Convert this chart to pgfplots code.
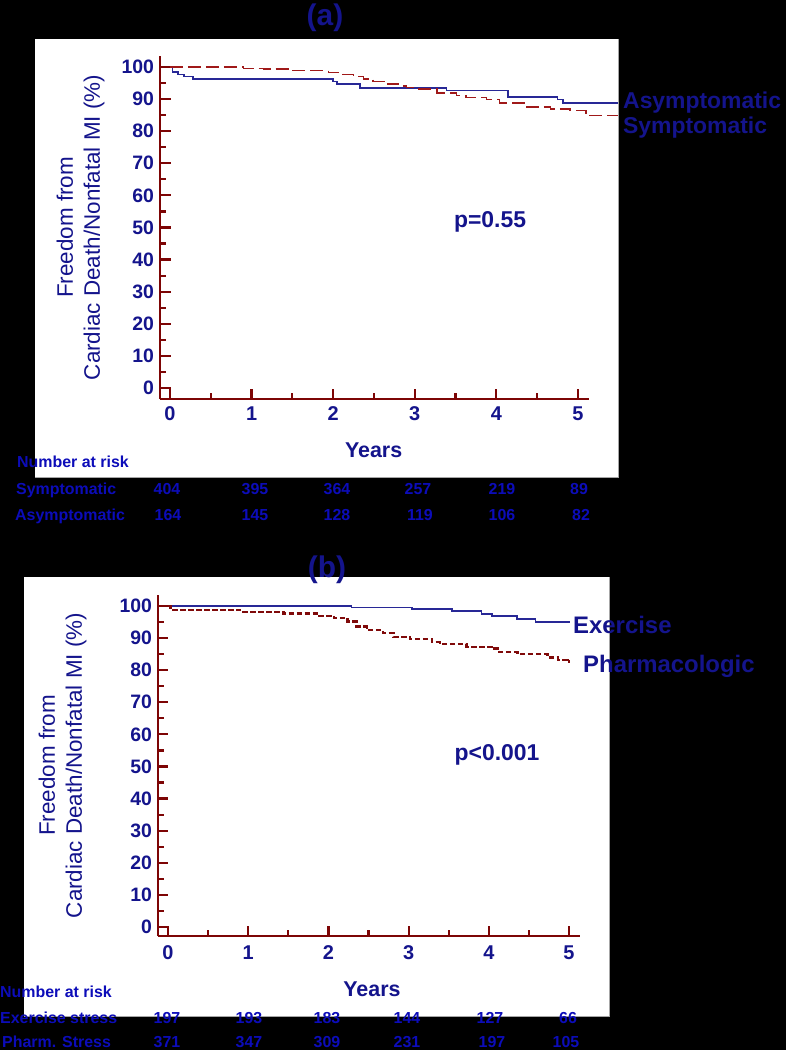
\documentclass[border=0pt]{standalone}
\usepackage{pgfplots}
\pgfplotsset{compat=1.18}
\usepackage{fontspec}
\setmainfont{Liberation Sans}
\definecolor{txtblue}{RGB}{20,20,140}
\definecolor{riskblue}{RGB}{12,12,185}
\definecolor{axred}{RGB}{125,5,5}
\definecolor{curveblue}{RGB}{40,40,150}
\definecolor{curvered}{RGB}{160,25,25}
\definecolor{curvered2}{RGB}{128,10,10}
\newcommand{\fs}[1]{\fontsize{#1}{#1}\selectfont}
\pgfplotsset{kmaxis/.style={
  scale only axis, axis lines*=left, clip=false,
  xtick={0,1,2,3,4,5}, minor x tick num=1,
  ytick={0,10,...,100}, minor y tick num=1,
  tick align=inside,
  major tick length=10.5bp, minor tick length=6bp,
  axis line style={axred, line width=2.2bp},
  every major tick/.style={axred, line width=2.2bp},
  every minor tick/.style={axred, line width=2.2bp},
  /pgf/number format/assume math mode=true,
  yticklabel style={font=\bfseries\fs{19.5}, text=txtblue, xshift=-2.5bp},
  xticklabel style={font=\bfseries\fs{20}, text=txtblue},
  ylabel={Freedom from\\Cardiac Death/Nonfatal MI (\%)},
  xlabel={Years},
  xlabel style={font=\bfseries\fs{21.5}, text=txtblue, anchor=base},
  ylabel style={font=\fontsize{22.5}{27}\selectfont, align=center, text=txtblue, anchor=center},
}}
\begin{document}
\begin{tikzpicture}
\fill[black] (0,0) rectangle (786bp,-1050bp);
\fill[white] (35bp,-39bp) rectangle (618bp,-477bp);
\draw[gray!70, line width=1bp] (618bp,-39bp) -- (618bp,-477bp) -- (35bp,-477bp);
\fill[white] (24bp,-577bp) rectangle (609bp,-1016bp);
\draw[gray!70, line width=1bp] (609bp,-577bp) -- (609bp,-1016bp) -- (24bp,-1016bp);

% ---------- panel (a)
\begin{axis}[kmaxis,
  at={(160bp,-399bp)}, anchor=south west,
  width=429bp, height=343bp,
  xmin=-0.1225, xmax=5.135, ymin=-3.43, ymax=103.4,
  xticklabel style={yshift=-4.5bp},
  xlabel style={at={(axis description cs:0.498,-0.170)}},
  ylabel style={at={(axis description cs:-0.185,0.5)}},
]
\addplot[const plot, curveblue, line width=1.6bp] coordinates {
(0,100) (0.03,98.4) (0.1,97.6) (0.17,97.0) (0.28,96.3) (2.0,95.5) (2.05,94.7)
(2.33,93.4) (3.39,92.7) (4.14,90.6) (4.75,89.8) (4.82,88.8) (5.49,88.8)};
\addplot[const plot, curvered, line width=1.4bp, dash pattern=on 13bp off 5bp] coordinates {
(0,100) (0.9,99.6) (1.15,99.3) (1.5,98.9) (1.94,98.2) (2.12,97.7) (2.25,97.0)
(2.37,96.2) (2.49,95.5) (2.65,94.7) (2.8,94.1) (2.9,93.6) (3.0,93.1) (3.27,91.9)
(3.51,91.1) (3.63,90.5) (3.88,89.8) (4.04,88.8) (4.37,87.5) (4.66,86.9) (4.9,86.4)
(5.1,84.8) (5.49,84.8)};
\end{axis}

% ---------- panel (b)
\begin{axis}[kmaxis,
  at={(158bp,-936bp)}, anchor=south west,
  width=422bp, height=341bp,
  xmin=-0.125, xmax=5.137, ymin=-2.8, ymax=103.4,
  xticklabel style={yshift=-6.5bp},
  xlabel style={at={(axis description cs:0.507,-0.178)}},
  ylabel style={at={(axis description cs:-0.226,0.5)}},
]
\addplot[const plot, curveblue, line width=1.6bp] coordinates {
(0,100) (2.29,99.5) (3.04,99.0) (3.54,98.4) (3.91,97.5) (4.04,96.8) (4.35,95.9)
(4.58,95.0) (5.01,95.0)};
\addplot[const plot, curvered2, line width=2.4bp, dash pattern=on 5.5bp off 2.5bp] coordinates {
(0,100) (0.03,98.8) (0.9,98.2) (1.44,97.7) (1.85,96.9) (2.07,96.2) (2.24,95.1)
(2.35,93.6) (2.48,92.5) (2.68,91.5) (2.81,90.4) (3.02,89.7) (3.29,88.7) (3.39,88.1)
(3.72,87.3) (4.04,86.7) (4.13,85.6) (4.36,85.0) (4.73,84.0) (4.86,83.2) (4.98,82.7)
(5.01,82.7)};
\end{axis}

% ---------- texts panel (a)
\node[font=\bfseries\fs{30}, text=txtblue, anchor=base, inner sep=0] at (325bp,-25bp) {(a)};
\node[font=\bfseries\fs{23}, text=txtblue, anchor=base west, inner sep=0] at (623bp,-108bp) {Asymptomatic};
\node[font=\bfseries\fs{23}, text=txtblue, anchor=base west, inner sep=0] at (623bp,-133bp) {Symptomatic};
\node[font=\bfseries\fs{23}, text=txtblue, anchor=base, inner sep=0] at (490bp,-227bp) {p=0.55};
\begin{scope}[every node/.style={font=\bfseries\fs{16}, text=riskblue, inner sep=0}]
\node[anchor=base west] at (17bp,-467bp) {Number at risk};
\node[anchor=base west] at (16bp,-494bp) {Symptomatic};
\node[anchor=base west] at (15bp,-520bp) {Asymptomatic};
\node[anchor=base] at (167bp,-494bp) {404};
\node[anchor=base] at (255bp,-494bp) {395};
\node[anchor=base] at (337bp,-494bp) {364};
\node[anchor=base] at (418bp,-494bp) {257};
\node[anchor=base] at (502bp,-494bp) {219};
\node[anchor=base] at (579bp,-494bp) {89};
\node[anchor=base] at (168bp,-520bp) {164};
\node[anchor=base] at (255bp,-520bp) {145};
\node[anchor=base] at (337bp,-520bp) {128};
\node[anchor=base] at (420bp,-520bp) {119};
\node[anchor=base] at (502bp,-520bp) {106};
\node[anchor=base] at (581bp,-520bp) {82};
\end{scope}

% ---------- texts panel (b)
\node[font=\bfseries\fs{30}, text=txtblue, anchor=base, inner sep=0] at (327bp,-577bp) {(b)};
\node[font=\bfseries\fs{24}, text=txtblue, anchor=base west, inner sep=0] at (573bp,-633bp) {Exercise};
\node[font=\bfseries\fs{24}, text=txtblue, anchor=base west, inner sep=0] at (583bp,-672bp) {Pharmacologic};
\node[font=\bfseries\fs{23}, text=txtblue, anchor=base, inner sep=0] at (497bp,-760bp) {p<0.001};
\begin{scope}[every node/.style={font=\bfseries\fs{16}, text=riskblue, inner sep=0}]
\node[anchor=base west] at (0bp,-997bp) {Number at risk};
\node[anchor=base west] at (0bp,-1023bp) {Exercise stress};
\node[anchor=base west] at (2bp,-1047bp) {Pharm. Stress};
\node[anchor=base] at (167bp,-1023bp) {197};
\node[anchor=base] at (249bp,-1023bp) {193};
\node[anchor=base] at (327bp,-1023bp) {183};
\node[anchor=base] at (407bp,-1023bp) {144};
\node[anchor=base] at (490bp,-1023bp) {127};
\node[anchor=base] at (568bp,-1023bp) {66};
\node[anchor=base] at (167bp,-1047bp) {371};
\node[anchor=base] at (249bp,-1047bp) {347};
\node[anchor=base] at (327bp,-1047bp) {309};
\node[anchor=base] at (407bp,-1047bp) {231};
\node[anchor=base] at (492bp,-1047bp) {197};
\node[anchor=base] at (566bp,-1047bp) {105};
\end{scope}
\pgfresetboundingbox
\useasboundingbox (0,0) rectangle (786bp,-1050bp);
\end{tikzpicture}
\end{document}
